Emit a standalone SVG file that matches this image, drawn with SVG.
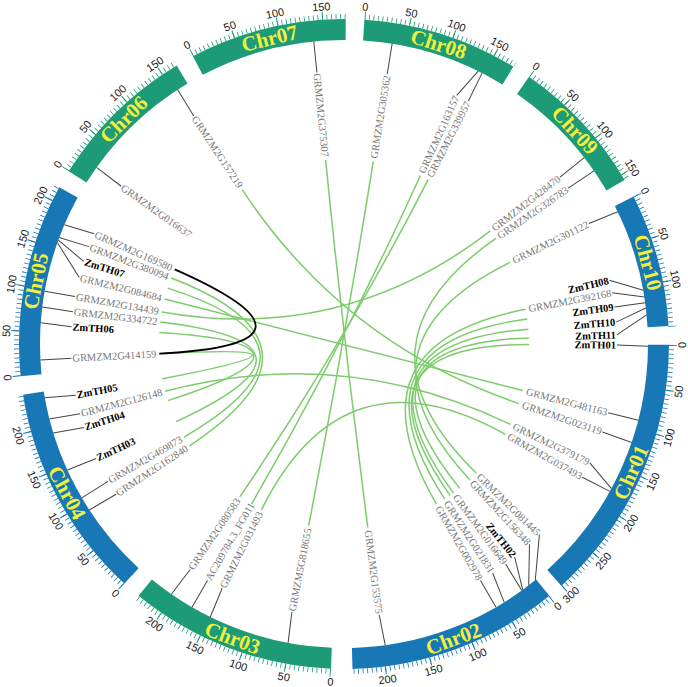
<svg xmlns="http://www.w3.org/2000/svg" width="688" height="687" viewBox="0 0 688 687">
<style>
.bg{fill:#fff}
.band{fill:none;stroke-width:21}
.g{stroke:#1c9b76}.b{stroke:#1878b6}
.mn{fill:none;stroke:#1878b6;stroke-width:5;stroke-dasharray:0.8 3.744}
.mj{fill:none;stroke:#1878b6;stroke-width:8;stroke-dasharray:1 44.65}
.mg .mn,.mg .mj{stroke:#1c9b76}
.tl{font-family:"Liberation Sans",Arial,sans-serif;font-size:11px;fill:#222;text-anchor:middle}
.cl{font-family:"Liberation Serif","Times New Roman",serif;font-size:21px;font-weight:bold;fill:#f2f03a;text-anchor:middle;dominant-baseline:central}
.gl line{stroke:#444;stroke-width:1}
.gl text{font-family:"Liberation Serif","Times New Roman",serif;font-size:10.5px;fill:#777;dominant-baseline:central}
.gl text.z{fill:#000;font-weight:bold}
.gl .L text{text-anchor:start}
.gl .R text{text-anchor:end}
.lk path{fill:none;stroke:#7ccc6c;stroke-width:1.5}
.lk path.k{stroke:#000;stroke-width:1.8}
.mk{fill:none;stroke:#fff;stroke-width:16}
</style>
<defs>
<mask id="m08"><circle class="mk" cx="344" cy="344" r="329" stroke-dasharray="160.2 3000"/></mask>
<mask id="m09"><circle class="mk" cx="344" cy="344" r="329" stroke-dasharray="144.1 3000"/></mask>
<mask id="m10"><circle class="mk" cx="344" cy="344" r="329" stroke-dasharray="137.6 3000"/></mask>
<mask id="m01"><circle class="mk" cx="344" cy="344" r="329" stroke-dasharray="275.4 3000"/></mask>
<mask id="m02"><circle class="mk" cx="344" cy="344" r="329" stroke-dasharray="217.1 3000"/></mask>
<mask id="m03"><circle class="mk" cx="344" cy="344" r="329" stroke-dasharray="212.5 3000"/></mask>
<mask id="m04"><circle class="mk" cx="344" cy="344" r="329" stroke-dasharray="221.7 3000"/></mask>
<mask id="m05"><circle class="mk" cx="344" cy="344" r="329" stroke-dasharray="198.7 3000"/></mask>
<mask id="m06"><circle class="mk" cx="344" cy="344" r="329" stroke-dasharray="155.1 3000"/></mask>
<mask id="m07"><circle class="mk" cx="344" cy="344" r="329" stroke-dasharray="161.4 3000"/></mask>
</defs>
<rect class="bg" width="688" height="687"/>

<g id="links" class="lk">
<path d="M171.2 278.0 Q344 344 189.6 445.8"/>
<path d="M167.7 288.1 Q344 344 184.1 437.1"/>
<path d="M160.3 322.1 Q344 344 176.1 421.6"/>
<path d="M159.4 332.4 Q344 344 167.9 400.6"/>
<path d="M159.3 353.7 Q344 344 162.3 378.7"/>
<path d="M164.6 298.9 Q344 344 523.0 390.6"/>
<path d="M161.8 311.9 Q344 344 490.4 230.9"/>
<path d="M242.2 189.6 Q344 344 519.1 403.6"/>
<path d="M165.1 391.2 Q344 344 510.6 424.5"/>
<path d="M325.6 159.9 Q344 344 367.8 527.5"/>
<path d="M373.3 161.3 Q344 344 308.7 525.6"/>
<path d="M428.3 179.3 Q344 344 239.8 496.8"/>
<path d="M420.4 175.5 Q344 344 251.5 504.2"/>
<path d="M261.5 509.6 Q344 344 505.5 434.3"/>
<path d="M495.9 238.4 Q344 344 476.4 473.2"/>
<path d="M510.0 262.3 Q344 344 469.7 479.7"/>
<path d="M525.7 309.3 Q344 344 436.5 504.2"/>
<path d="M527.3 318.9 Q344 344 444.8 499.2"/>
<path d="M528.4 329.2 Q344 344 453.5 493.1"/>
<path d="M528.9 337.9 Q344 344 459.7 488.4"/>
<path d="M529.0 344.6 Q344 344 450.1 495.6"/>
<path class="k" d="M174.7 269.4 Q344 344 159.3 353.7"/>
</g>

<g id="Chr08" class="mg" transform="rotate(-86.4 344 344)">
<circle class="band g" cx="344" cy="344" r="314.5" stroke-dasharray="152.6 3000"/>
<g mask="url(#m08)"><circle class="mn" cx="344" cy="344" r="327.5"/><circle class="mj" cx="344" cy="344" r="329"/></g>
</g>
<g id="Chr09" class="mg" transform="rotate(-55.3 344 344)">
<circle class="band g" cx="344" cy="344" r="314.5" stroke-dasharray="137.2 3000"/>
<g mask="url(#m09)"><circle class="mn" cx="344" cy="344" r="327.5"/><circle class="mj" cx="344" cy="344" r="329"/></g>
</g>
<g id="Chr10" transform="rotate(-27 344 344)">
<circle class="band b" cx="344" cy="344" r="314.5" stroke-dasharray="130.9 3000"/>
<g mask="url(#m10)"><circle class="mn" cx="344" cy="344" r="327.5"/><circle class="mj" cx="344" cy="344" r="329"/></g>
</g>
<g id="Chr01" transform="rotate(0.15 344 344)">
<circle class="band b" cx="344" cy="344" r="314.5" stroke-dasharray="262.7 3000"/>
<g mask="url(#m01)"><circle class="mn" cx="344" cy="344" r="327.5"/><circle class="mj" cx="344" cy="344" r="329"/></g>
</g>
<g id="Chr02" transform="rotate(50.8 344 344)">
<circle class="band b" cx="344" cy="344" r="314.5" stroke-dasharray="206.9 3000"/>
<g mask="url(#m02)"><circle class="mn" cx="344" cy="344" r="327.5"/><circle class="mj" cx="344" cy="344" r="329"/></g>
</g>
<g id="Chr03" class="mg" transform="rotate(92.3 344 344)">
<circle class="band g" cx="344" cy="344" r="314.5" stroke-dasharray="202.5 3000"/>
<g mask="url(#m03)"><circle class="mn" cx="344" cy="344" r="327.5"/><circle class="mj" cx="344" cy="344" r="329"/></g>
</g>
<g id="Chr04" transform="rotate(132.5 344 344)">
<circle class="band b" cx="344" cy="344" r="314.5" stroke-dasharray="211.3 3000"/>
<g mask="url(#m04)"><circle class="mn" cx="344" cy="344" r="327.5"/><circle class="mj" cx="344" cy="344" r="329"/></g>
</g>
<g id="Chr05" transform="rotate(174.3 344 344)">
<circle class="band b" cx="344" cy="344" r="314.5" stroke-dasharray="189.4 3000"/>
<g mask="url(#m05)"><circle class="mn" cx="344" cy="344" r="327.5"/><circle class="mj" cx="344" cy="344" r="329"/></g>
</g>
<g id="Chr06" class="mg" transform="rotate(212.1 344 344)">
<circle class="band g" cx="344" cy="344" r="314.5" stroke-dasharray="147.7 3000"/>
<g mask="url(#m06)"><circle class="mn" cx="344" cy="344" r="327.5"/><circle class="mj" cx="344" cy="344" r="329"/></g>
</g>
<g id="Chr07" class="mg" transform="rotate(242.3 344 344)">
<circle class="band g" cx="344" cy="344" r="314.5" stroke-dasharray="153.7 3000"/>
<g mask="url(#m07)"><circle class="mn" cx="344" cy="344" r="327.5"/><circle class="mj" cx="344" cy="344" r="329"/></g>
</g>

<g id="chr-labels">
<text class="cl" transform="rotate(17.5 344 344)" x="344" y="29.5">Chr08</text>
<text class="cl" transform="rotate(47.2 344 344)" x="344" y="29.5">Chr09</text>
<text class="cl" transform="rotate(75 344 344)" x="344" y="29.5">Chr10</text>
<text class="cl" transform="rotate(294.1 344 344)" x="344" y="658.5">Chr01</text>
<text class="cl" transform="rotate(339.65 344 344)" x="344" y="658.5">Chr02</text>
<text class="cl" transform="rotate(20.75 344 344)" x="344" y="658.5">Chr03</text>
<text class="cl" transform="rotate(61.75 344 344)" x="344" y="658.5">Chr04</text>
<text class="cl" transform="rotate(281.55 344 344)" x="344" y="29.5">Chr05</text>
<text class="cl" transform="rotate(315.55 344 344)" x="344" y="29.5">Chr06</text>
<text class="cl" transform="rotate(346.3 344 344)" x="344" y="29.5">Chr07</text>
</g>

<g id="tick-labels" class="tl">
<text transform="rotate(3.6 344 344)" x="344" y="10">0</text>
<text transform="rotate(11.55 344 344)" x="344" y="10">50</text>
<text transform="rotate(19.5 344 344)" x="344" y="10">100</text>
<text transform="rotate(27.45 344 344)" x="344" y="10">150</text>
<text transform="rotate(34.7 344 344)" x="344" y="10">0</text>
<text transform="rotate(42.65 344 344)" x="344" y="10">50</text>
<text transform="rotate(50.6 344 344)" x="344" y="10">100</text>
<text transform="rotate(58.55 344 344)" x="344" y="10">150</text>
<text transform="rotate(63 344 344)" x="344" y="10">0</text>
<text transform="rotate(70.95 344 344)" x="344" y="10">50</text>
<text transform="rotate(78.9 344 344)" x="344" y="10">100</text>
<text transform="rotate(270.15 344 344)" x="344" y="686">0</text>
<text transform="rotate(278.1 344 344)" x="344" y="686">50</text>
<text transform="rotate(286.05 344 344)" x="344" y="686">100</text>
<text transform="rotate(294 344 344)" x="344" y="686">150</text>
<text transform="rotate(301.95 344 344)" x="344" y="686">200</text>
<text transform="rotate(309.9 344 344)" x="344" y="686">250</text>
<text transform="rotate(317.85 344 344)" x="344" y="686">300</text>
<text transform="rotate(320.8 344 344)" x="344" y="686">0</text>
<text transform="rotate(328.75 344 344)" x="344" y="686">50</text>
<text transform="rotate(336.7 344 344)" x="344" y="686">100</text>
<text transform="rotate(344.65 344 344)" x="344" y="686">150</text>
<text transform="rotate(352.6 344 344)" x="344" y="686">200</text>
<text transform="rotate(2.3 344 344)" x="344" y="686">0</text>
<text transform="rotate(10.25 344 344)" x="344" y="686">50</text>
<text transform="rotate(18.2 344 344)" x="344" y="686">100</text>
<text transform="rotate(26.15 344 344)" x="344" y="686">150</text>
<text transform="rotate(34.1 344 344)" x="344" y="686">200</text>
<text transform="rotate(42.5 344 344)" x="344" y="686">0</text>
<text transform="rotate(50.45 344 344)" x="344" y="686">50</text>
<text transform="rotate(58.4 344 344)" x="344" y="686">100</text>
<text transform="rotate(66.35 344 344)" x="344" y="686">150</text>
<text transform="rotate(74.3 344 344)" x="344" y="686">200</text>
<text transform="rotate(84.3 344 344)" x="344" y="686">0</text>
<text transform="rotate(272.25 344 344)" x="344" y="10">50</text>
<text transform="rotate(280.2 344 344)" x="344" y="10">100</text>
<text transform="rotate(288.15 344 344)" x="344" y="10">150</text>
<text transform="rotate(296.1 344 344)" x="344" y="10">200</text>
<text transform="rotate(302.1 344 344)" x="344" y="10">0</text>
<text transform="rotate(310.05 344 344)" x="344" y="10">50</text>
<text transform="rotate(318 344 344)" x="344" y="10">100</text>
<text transform="rotate(325.95 344 344)" x="344" y="10">150</text>
<text transform="rotate(332.3 344 344)" x="344" y="10">0</text>
<text transform="rotate(340.25 344 344)" x="344" y="10">50</text>
<text transform="rotate(348.2 344 344)" x="344" y="10">100</text>
<text transform="rotate(356.15 344 344)" x="344" y="10">150</text>
</g>

<g id="genes" class="gl">
<g class="L">
<g id="g169580" transform="rotate(23.8 344 344)"><line x1="40" y1="347.7" x2="71" y2="344"/><text x="72" y="344">GRMZM2G169580</text></g>
<g id="g380094" transform="rotate(20.9 344 344)"><line x1="40" y1="346.1" x2="71" y2="344"/><text x="72" y="344">GRMZM2G380094</text></g>
<g id="ZmTH07" transform="rotate(17.6 344 344)"><line x1="40.3" y1="331.3" x2="71" y2="344"/><text class="z" x="72" y="344">ZmTH07</text></g>
<g id="g084684" transform="rotate(14.1 344 344)"><line x1="41.3" y1="315.4" x2="71" y2="344"/><text x="72" y="344">GRMZM2G084684</text></g>
<g id="g134439" transform="rotate(10 344 344)"><line x1="40" y1="344" x2="71" y2="344"/><text x="72" y="344">GRMZM2G134439</text></g>
<g id="g334722" transform="rotate(6.8 344 344)"><line x1="40" y1="342.9" x2="71" y2="344"/><text x="72" y="344">GRMZM2G334722</text></g>
<g id="ZmTH06" transform="rotate(3.6 344 344)"><line x1="40" y1="341.9" x2="71" y2="344"/><text class="z" x="72" y="344">ZmTH06</text></g>
<g id="g414159" transform="rotate(-3 344 344)"><line x1="40" y1="344" x2="71" y2="344"/><text x="72" y="344">GRMZM2G414159</text></g>
<g id="g016637" transform="rotate(35.3 344 344)"><line x1="40" y1="342.9" x2="71" y2="344"/><text x="72" y="344">GRMZM2G016637</text></g>
<g id="g157219" transform="rotate(56.6 344 344)"><line x1="40" y1="342.9" x2="71" y2="344"/><text x="72" y="344">GRMZM2G157219</text></g>
<g id="g375307" transform="rotate(84.3 344 344)"><line x1="40" y1="344" x2="71" y2="344"/><text x="72" y="344">GRMZM2G375307</text></g>
<g id="g818655" transform="rotate(-79 344 344)"><line x1="40" y1="346.1" x2="71" y2="344"/><text x="72" y="344">GRMZM5G818655</text></g>
<g id="g031493" transform="rotate(-63.5 344 344)"><line x1="40" y1="346.1" x2="71" y2="344"/><text x="72" y="344">GRMZM2G031493</text></g>
<g id="gAC209784" transform="rotate(-60 344 344)"><line x1="40" y1="344" x2="71" y2="344"/><text x="72" y="344">AC209784.3_FG011</text></g>
<g id="g080583" transform="rotate(-55.7 344 344)"><line x1="40" y1="342.4" x2="71" y2="344"/><text x="72" y="344">GRMZM2G080583</text></g>
<g id="g162840" transform="rotate(-33.4 344 344)"><line x1="40" y1="342.4" x2="71" y2="344"/><text x="72" y="344">GRMZM2G162840</text></g>
<g id="g469873" transform="rotate(-30.2 344 344)"><line x1="40" y1="345.1" x2="71" y2="344"/><text x="72" y="344">GRMZM2G469873</text></g>
<g id="ZmTH03" transform="rotate(-24.8 344 344)"><line x1="40" y1="342.4" x2="71" y2="344"/><text class="z" x="72" y="344">ZmTH03</text></g>
<g id="ZmTH04" transform="rotate(-17.8 344 344)"><line x1="40" y1="339.8" x2="71" y2="344"/><text class="z" x="72" y="344">ZmTH04</text></g>
<g id="g126148" transform="rotate(-14.8 344 344)"><line x1="40" y1="341.3" x2="71" y2="344"/><text x="72" y="344">GRMZM2G126148</text></g>
<g id="ZmTH05" transform="rotate(-10.8 344 344)"><line x1="40" y1="340.8" x2="71" y2="344"/><text class="z" x="72" y="344">ZmTH05</text></g>
</g>
<g class="R">
<g id="g305362" transform="rotate(-80.9 344 344)"><line x1="648" y1="344" x2="617" y2="344"/><text x="616" y="344">GRMZM2G305362</text></g>
<g id="g163157" transform="rotate(-65.6 344 344)"><line x1="647.9" y1="353.5" x2="617" y2="344"/><text x="616" y="344">GRMZM2G163157</text></g>
<g id="g339957" transform="rotate(-62.9 344 344)"><line x1="648" y1="343.5" x2="617" y2="344"/><text x="616" y="344">GRMZM2G339957</text></g>
<g id="g428470" transform="rotate(-37.7 344 344)"><line x1="648" y1="343.5" x2="617" y2="344"/><text x="616" y="344">GRMZM2G428470</text></g>
<g id="g326783" transform="rotate(-34.8 344 344)"><line x1="648" y1="344.5" x2="617" y2="344"/><text x="616" y="344">GRMZM2G326783</text></g>
<g id="g301122" transform="rotate(-26.2 344 344)"><line x1="648" y1="346.1" x2="617" y2="344"/><text x="616" y="344">GRMZM2G301122</text></g>
<g id="ZmTH08" transform="rotate(-13.5 344 344)"><line x1="647.5" y1="361.5" x2="617" y2="344"/><text class="z" x="616" y="344">ZmTH08</text></g>
<g id="g392168" transform="rotate(-10.8 344 344)"><line x1="647.8" y1="354.1" x2="617" y2="344"/><text x="616" y="344">GRMZM2G392168</text></g>
<g id="ZmTH09" transform="rotate(-7.8 344 344)"><line x1="648" y1="344" x2="617" y2="344"/><text class="z" x="616" y="344">ZmTH09</text></g>
<g id="ZmTH10" transform="rotate(-4.6 344 344)"><line x1="647.8" y1="332.3" x2="617" y2="344"/><text class="z" x="616" y="344">ZmTH10</text></g>
<g id="ZmTH11" transform="rotate(-1.9 344 344)"><line x1="647.4" y1="324.9" x2="617" y2="344"/><text class="z" x="616" y="344">ZmTH11</text></g>
<g id="ZmTH01" transform="rotate(0.2 344 344)"><line x1="648" y1="345.1" x2="617" y2="344"/><text class="z" x="616" y="344">ZmTH01</text></g>
<g id="g481163" transform="rotate(14.6 344 344)"><line x1="648" y1="343.5" x2="617" y2="344"/><text x="616" y="344">GRMZM2G481163</text></g>
<g id="g023119" transform="rotate(18.8 344 344)"><line x1="648" y1="344.5" x2="617" y2="344"/><text x="616" y="344">GRMZM2G023119</text></g>
<g id="g379179" transform="rotate(25.8 344 344)"><line x1="647.7" y1="357.8" x2="617" y2="344"/><text x="616" y="344">GRMZM2G379179</text></g>
<g id="g037493" transform="rotate(29.2 344 344)"><line x1="648" y1="342.9" x2="617" y2="344"/><text x="616" y="344">GRMZM2G037493</text></g>
<g id="g081445" transform="rotate(44.3 344 344)"><line x1="645.9" y1="379.5" x2="617" y2="344"/><text x="616" y="344">GRMZM2G081445</text></g>
<g id="g156348" transform="rotate(47.2 344 344)"><line x1="646.7" y1="372.6" x2="617" y2="344"/><text x="616" y="344">GRMZM2G156348</text></g>
<g id="ZmTH02" transform="rotate(51.3 344 344)"><line x1="647.7" y1="358.3" x2="617" y2="344"/><text class="z" x="616" y="344">ZmTH02</text></g>
<g id="g016649" transform="rotate(53.7 344 344)"><line x1="648" y1="346.7" x2="617" y2="344"/><text x="616" y="344">GRMZM2G016649</text></g>
<g id="g021831" transform="rotate(57 344 344)"><line x1="648" y1="350.4" x2="617" y2="344"/><text x="616" y="344">GRMZM2G021831</text></g>
<g id="g002978" transform="rotate(60 344 344)"><line x1="648" y1="344" x2="617" y2="344"/><text x="616" y="344">GRMZM2G002978</text></g>
<g id="g153575" transform="rotate(82.6 344 344)"><line x1="648" y1="341.9" x2="617" y2="344"/><text x="616" y="344">GRMZM2G153575</text></g>
</g>
</g>
</svg>
